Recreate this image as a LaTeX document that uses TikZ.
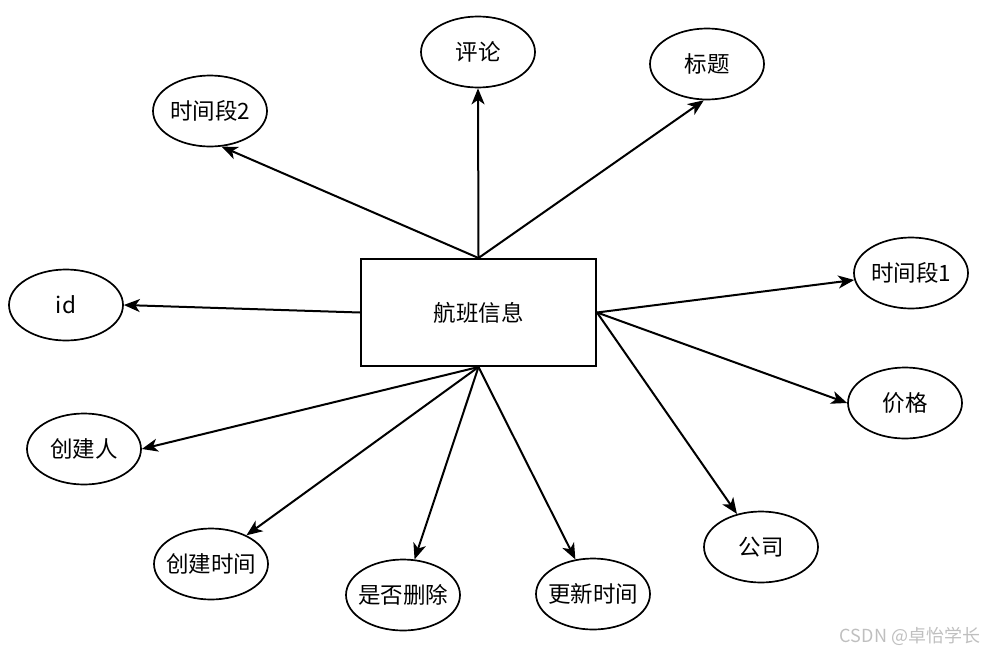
\documentclass[tikz,border=0pt]{standalone}
\usepackage{fontspec}
\setmainfont{Noto Sans CJK SC}
\usetikzlibrary{arrows.meta,shapes.geometric}
\begin{document}
\begin{tikzpicture}[x=1pt,y=-1pt,
  attr/.style={draw,ellipse,line width=1.7pt,minimum width=114pt,minimum height=71pt,inner xsep=-20pt,inner ysep=-8pt,font=\fontsize{22.5}{26}\selectfont},
  entity/.style={draw,rectangle,line width=2pt,minimum width=235pt,minimum height=107pt,inner sep=0pt,font=\fontsize{22.5}{26}\selectfont},
  link/.style={line width=2pt,-{Stealth[length=16pt,width=13pt,inset=4.5pt]}}]
\useasboundingbox (0,0) rectangle (987,653);
\node[entity] (r) at (478.5,312.5) {航班信息};
\node[attr] (pl) at (478,52) {评论};
\node[attr] (bt) at (707,64) {标题};
\node[attr] (t2) at (210,111) {时间段2};
\node[attr] (t1) at (911,273) {时间段1};
\node[attr] (id) at (66,305) {id};
\node[attr] (jg) at (905,403) {价格};
\node[attr] (cjr) at (84,449) {创建人};
\node[attr] (gs) at (761,547) {公司};
\node[attr] (cjsj) at (211,564) {创建时间};
\node[attr] (del) at (403,595) {是否删除};
\node[attr] (gx) at (593,594) {更新时间};
\node[text=black!25,font=\fontsize{18}{21}\selectfont] (wm) at (910,636) {CSDN @卓怡学长};
\draw[link] (r.north) -- (pl.south);
\draw[link] (r.north) -- (bt.265);
\draw[link] (r.north) -- (t2.288);
\draw[link] (r.west) -- (id.east);
\draw[link] (r.east) -- (t1.187);
\draw[link] (r.east) -- (jg.west);
\draw[link] (r.east) -- (gs.126);
\draw[link] (r.south) -- (cjr.east);
\draw[link] (r.south) -- (cjsj.39);
\draw[link] (r.south) -- (del.72);
\draw[link] (r.south) -- (gx.117);
\end{tikzpicture}
\end{document}
